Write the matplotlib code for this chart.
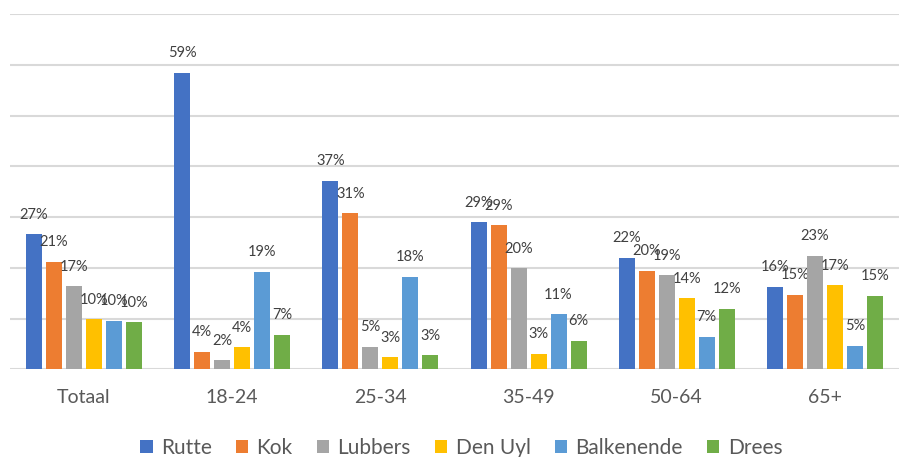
import numpy as np
import matplotlib.pyplot as plt

plt.rcParams['font.family'] = ['Lato', 'DejaVu Sans']

categories = ['Totaal', '18-24', '25-34', '35-49', '50-64', '65+']
series = ['Rutte', 'Kok', 'Lubbers', 'Den Uyl', 'Balkenende', 'Drees']
colors = ['#4472C4', '#ED7D31', '#A5A5A5', '#FFC000', '#5B9BD5', '#70AD47']

# bar heights (percent)
rutte = [26.6, 58.5, 37.2, 29.0, 22.0, 16.3]
kok = [21.2, 3.5, 30.8, 28.4, 19.4, 14.7]
lubbers = [16.4, 1.8, 4.4, 19.9, 18.5, 22.4]
den_uyl = [9.9, 4.3, 2.4, 3.1, 14.0, 16.6]
balkenende = [9.6, 19.2, 18.2, 10.9, 6.4, 4.6]
drees = [9.3, 6.8, 2.8, 5.6, 11.9, 14.5]

# data labels as printed
rutte_lbl = ['27%', '59%', '37%', '29%', '22%', '16%']
kok_lbl = ['21%', '4%', '31%', '29%', '20%', '15%']
lubbers_lbl = ['17%', '2%', '5%', '20%', '19%', '23%']
den_uyl_lbl = ['10%', '4%', '3%', '3%', '14%', '17%']
balkenende_lbl = ['10%', '19%', '18%', '11%', '7%', '5%']
drees_lbl = ['10%', '7%', '3%', '6%', '12%', '15%']

values = [rutte, kok, lubbers, den_uyl, balkenende, drees]
labels = [rutte_lbl, kok_lbl, lubbers_lbl, den_uyl_lbl, balkenende_lbl, drees_lbl]

fig = plt.figure(figsize=(8.99, 4.57), dpi=100)
ax = fig.add_axes([0.011, 0.192, 0.989, 0.777])

x = np.arange(len(categories))
pitch = 0.135
width = 0.108
for i, (name, vals, lbls, c) in enumerate(zip(series, values, labels, colors)):
    pos = x + (i - 2.5) * pitch
    ax.bar(pos, vals, width, color=c, label=name, zorder=3)
    for px, v, t in zip(pos, vals, lbls):
        ax.annotate(t, (px, v), xytext=(0, 14), textcoords='offset points',
                    ha='center', va='center', fontsize=10.5, color='#404040')

ax.set_ylim(0, 70)
ax.set_xlim(-0.5, len(categories) - 0.5)
ax.set_yticks(np.arange(0, 71, 10))
ax.yaxis.grid(True, color='#d9d9d9', linewidth=1.5, zorder=0)
ax.tick_params(axis='y', left=False, labelleft=False)
ax.tick_params(axis='x', bottom=False, labelsize=14, labelcolor='#595959', pad=11)
ax.set_xticks(x)
ax.set_xticklabels(categories)
for s in ax.spines.values():
    s.set_visible(False)

fig.legend(loc='center', bbox_to_anchor=(0.513, 0.02), ncol=6, frameon=False,
           fontsize=15, handlelength=0.6, handleheight=0.6, columnspacing=1.15,
           handletextpad=0.4, labelcolor='#595959')

fig.savefig('out.png', dpi=100)
